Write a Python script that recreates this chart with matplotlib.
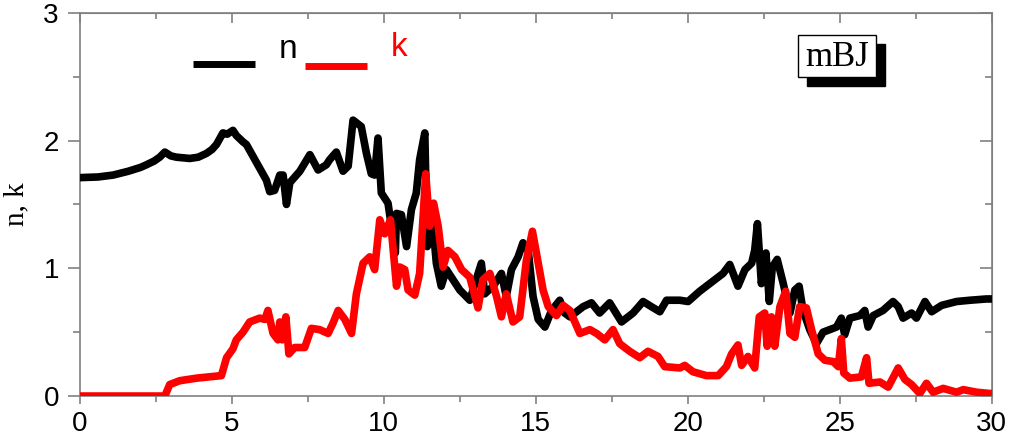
import numpy as np
import matplotlib.pyplot as plt
from matplotlib.patches import Rectangle
from matplotlib.ticker import MultipleLocator

# refractive index n (black)
n_x = [0.0, 0.6, 1.10, 1.6, 2.0, 2.19, 2.45, 2.63, 2.80, 3.0, 3.18, 3.62, 3.9, 4.17, 4.35,
       4.50, 4.71, 4.85, 5.04, 5.15,
       5.37, 5.48, 5.81, 6.14, 6.25, 6.41, 6.58, 6.69, 6.80, 6.91, 7.24, 7.57, 7.84,
       8.11, 8.22, 8.44, 8.66, 8.83, 8.99, 9.15, 9.26, 9.43, 9.59, 9.70, 9.81, 9.92,
       10.14, 10.25, 10.38, 10.42, 10.58, 10.75, 10.91, 11.07, 11.18, 11.35, 11.43,
       11.62, 11.73, 11.89, 12.06, 12.28, 12.50, 12.83, 13.21, 13.32, 13.60, 13.87,
       14.03, 14.20, 14.42, 14.58, 14.75, 14.91, 15.08, 15.30, 15.52, 15.79, 15.95,
       16.12, 16.56, 16.83, 17.10, 17.43, 17.82, 18.20, 18.53, 18.80, 19.08, 19.30,
       19.74, 20.01, 20.39, 20.83, 21.16, 21.38, 21.65, 21.88, 22.10, 22.20, 22.29,
       22.42, 22.57, 22.68, 22.78, 22.94, 23.14, 23.36, 23.52, 23.66, 23.79, 24.01,
       24.23, 24.45, 24.78, 24.89, 25.05, 25.16, 25.33, 25.66, 25.82, 25.93, 26.10,
       26.42, 26.75, 26.92, 27.08, 27.36, 27.52, 27.80, 28.02, 28.35, 28.84, 29.28,
       29.82, 30.0]
n_y = [1.71, 1.715, 1.73, 1.76, 1.79, 1.81, 1.84, 1.87, 1.91, 1.88, 1.87, 1.86, 1.87,
       1.90, 1.93, 1.97, 2.06, 2.05, 2.08, 2.04,
       1.99, 1.97, 1.83, 1.69, 1.60, 1.61, 1.73, 1.73, 1.50, 1.67, 1.76, 1.89, 1.77,
       1.81, 1.85, 1.91, 1.76, 1.80, 2.16, 2.13, 2.11, 1.90, 1.74, 1.73, 2.02, 1.59,
       1.51, 1.33, 1.12, 1.43, 1.42, 1.17, 1.46, 1.59, 1.85, 2.06, 1.17,
       1.33, 1.04, 0.86, 0.99, 0.91, 0.83, 0.75, 1.04, 0.80, 0.86, 0.96,
       0.78, 0.99, 1.09, 1.20, 1.14, 0.78, 0.60, 0.54, 0.67, 0.75, 0.65,
       0.62, 0.70, 0.73, 0.65, 0.73, 0.58, 0.65, 0.74, 0.70, 0.66, 0.75,
       0.75, 0.74, 0.82, 0.90, 0.96, 1.03, 0.86, 0.99, 1.04, 1.14, 1.35,
       0.88, 1.12, 0.74, 1.01, 1.07, 0.88, 0.65, 0.83, 0.86, 0.67, 0.52,
       0.41, 0.50, 0.53, 0.54, 0.61, 0.48, 0.61, 0.63, 0.67, 0.54, 0.63,
       0.67, 0.74, 0.70, 0.61, 0.65, 0.61, 0.74, 0.66, 0.71, 0.74, 0.75,
       0.76, 0.76]

# extinction coefficient k (red)
k_x = [0.0, 2.80, 2.96, 3.29, 3.84, 4.66, 4.83, 5.04, 5.15, 5.37, 5.59, 5.92, 6.09,
       6.19, 6.36, 6.52, 6.58, 6.66, 6.78, 6.88, 7.07, 7.40, 7.62, 7.89, 8.17, 8.33,
       8.50, 8.72, 8.94, 9.10, 9.32, 9.54, 9.70, 9.87, 10.03, 10.22, 10.42, 10.53,
       10.69, 10.80, 11.02, 11.18, 11.38, 11.51, 11.64, 11.79, 11.95, 12.11, 12.34,
       12.56, 12.83, 13.10, 13.26, 13.49, 13.71, 13.87, 14.03, 14.25, 14.47, 14.69,
       14.89, 15.02, 15.24, 15.41, 15.68, 15.90, 16.12, 16.45, 16.78, 17.00, 17.27,
       17.54, 17.76, 18.09, 18.42, 18.69, 19.02, 19.24, 19.74, 19.90, 20.17, 20.61,
       21.00, 21.27, 21.44, 21.65, 21.77, 21.98, 22.20, 22.35, 22.53, 22.61, 22.75,
       22.86, 23.03, 23.22, 23.36, 23.52, 23.68, 23.90, 24.07, 24.29, 24.51, 24.78,
       24.95, 25.05, 25.13, 25.33, 25.71, 25.88, 25.96, 26.32, 26.59, 26.92, 27.14,
       27.36, 27.63, 27.85, 28.07, 28.40, 28.84, 29.06, 29.50, 29.93, 30.0]
k_y = [0.0, 0.0, 0.09, 0.12, 0.14, 0.16, 0.30, 0.37, 0.44, 0.50, 0.58, 0.61, 0.60,
       0.67, 0.49, 0.44, 0.58, 0.44, 0.62, 0.33, 0.38, 0.38, 0.53, 0.52, 0.49, 0.57,
       0.67, 0.60, 0.49, 0.80, 1.04, 1.09, 0.99, 1.38, 1.27, 1.38, 0.86, 1.01,
       0.99, 0.83, 0.79, 0.96, 1.74, 1.33, 1.51, 1.33, 1.01, 1.14, 1.09,
       0.99, 0.93, 0.69, 0.91, 0.96, 0.78, 0.62, 0.80, 0.58, 0.62, 1.06,
       1.29, 1.12, 0.83, 0.70, 0.63, 0.71, 0.67, 0.49, 0.52, 0.49, 0.44,
       0.52, 0.41, 0.35, 0.30, 0.35, 0.31, 0.23, 0.22, 0.24, 0.19, 0.16,
       0.16, 0.23, 0.33, 0.40, 0.24, 0.31, 0.22, 0.62, 0.65, 0.39, 0.62,
       0.39, 0.70, 0.82, 0.49, 0.46, 0.70, 0.69, 0.52, 0.33, 0.28, 0.27,
       0.23, 0.45, 0.18, 0.14, 0.15, 0.30, 0.10, 0.11, 0.07, 0.22, 0.13,
       0.09, 0.02, 0.10, 0.03, 0.06, 0.03, 0.05, 0.03, 0.02, 0.02]

sans = ['Liberation Sans', 'DejaVu Sans']
serif = ['Liberation Serif', 'DejaVu Serif']
grey = '#808080'

fig = plt.figure(figsize=(10.09, 4.43), dpi=100)
ax = fig.add_axes([0.079, 0.106, 0.904, 0.865])

ax.plot(n_x, n_y, color='black', lw=5.5, solid_joinstyle='round', zorder=3)
ax.plot(k_x, k_y, color='red', lw=5.5, solid_joinstyle='round', zorder=4)

ax.set_xlim(0, 30)
ax.set_ylim(0, 3)
ax.xaxis.set_major_locator(MultipleLocator(5))
ax.xaxis.set_minor_locator(MultipleLocator(2.5))
ax.yaxis.set_major_locator(MultipleLocator(1))
ax.yaxis.set_minor_locator(MultipleLocator(0.5))

for s in ax.spines.values():
    s.set_color(grey)
    s.set_linewidth(1.2)

ax.tick_params(axis='x', which='major', direction='out', length=6, width=1.2,
               color=grey, labelsize=20, pad=5)
ax.tick_params(axis='x', which='minor', direction='out', length=4, width=1.2, color=grey)
ax.tick_params(axis='y', which='major', direction='out', length=9, width=1.2,
               color=grey, labelsize=20, pad=6)
ax.tick_params(axis='y', which='minor', direction='out', length=5, width=1.2, color=grey)
# ticks on top / right point inward
sec_x = ax.secondary_xaxis('top')
sec_x.xaxis.set_major_locator(MultipleLocator(5))
sec_x.xaxis.set_minor_locator(MultipleLocator(2.5))
sec_x.tick_params(which='major', direction='in', length=7, width=1.2, color=grey, labeltop=False)
sec_x.tick_params(which='minor', direction='in', length=4, width=1.2, color=grey)
sec_x.spines['top'].set_color(grey)
sec_y = ax.secondary_yaxis('right')
sec_y.yaxis.set_major_locator(MultipleLocator(1))
sec_y.yaxis.set_minor_locator(MultipleLocator(0.5))
sec_y.tick_params(which='major', direction='in', length=9, width=1.2, color=grey, labelright=False)
sec_y.tick_params(which='minor', direction='in', length=5, width=1.2, color=grey)
sec_y.spines['right'].set_color(grey)

for lab in ax.get_xticklabels() + ax.get_yticklabels():
    lab.set_family(sans)

ax.set_ylabel('n, k', family=serif, fontsize=21, labelpad=10)

# legend drawn by hand
ax.plot([0.124, 0.192], [0.867, 0.867], transform=ax.transAxes, color='black', lw=5,
        solid_capstyle='butt', clip_on=False)
ax.text(0.228, 0.905, 'n', transform=ax.transAxes, fontsize=24, family=sans,
        ha='center', va='center')
ax.plot([0.247, 0.315], [0.862, 0.862], transform=ax.transAxes, color='red', lw=5,
        solid_capstyle='butt', clip_on=False)
ax.text(0.350, 0.910, 'k', transform=ax.transAxes, fontsize=24, family=sans,
        color='red', ha='center', va='center')

# mBJ label with shadow
ax.add_patch(Rectangle((0.797, 0.809), 0.086, 0.110, transform=ax.transAxes,
                       facecolor='black', edgecolor='black', zorder=5))
ax.add_patch(Rectangle((0.787, 0.833), 0.086, 0.110, transform=ax.transAxes,
                       facecolor='white', edgecolor='black', lw=1, zorder=6))
ax.text(0.830, 0.884, 'mBJ', transform=ax.transAxes, fontsize=25, family=serif,
        ha='center', va='center', zorder=7)

fig.savefig('out.png', dpi=100)
